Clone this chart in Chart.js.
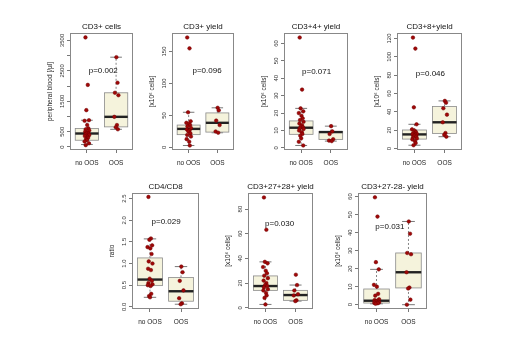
<!DOCTYPE html>
<html lang="en">
<head>
    <meta charset="UTF-8">
    <script src="https://cdn.jsdelivr.net/npm/chart.js"></script>
    <title>OOS vs no OOS</title>
    <style>
        body {
            margin: 0;
            background: #fff;
            width: 520px;
            height: 360px;
            position: relative;
            overflow: hidden;
        }
        canvas {
            position: absolute;
        }
    </style>
</head>
<body>
    <canvas id="c0"></canvas>
    <canvas id="c1"></canvas>
    <canvas id="c2"></canvas>
    <canvas id="c3"></canvas>
    <canvas id="c4"></canvas>
    <canvas id="c5"></canvas>
    <canvas id="c6"></canvas>
    <script>
        // --- data ---
        const groups = ['no OOS', 'OOS'];
        const titles = ['CD3+ cells', 'CD3+ yield', 'CD3+4+ yield', 'CD3+8+yield', 'CD4/CD8', 'CD3+27+28+ yield', 'CD3+27-28- yield'];
        const yTitles = ['peripheral blood [/µl]', '[x10⁶ cells]', '[x10⁶ cells]', '[x10⁶ cells]', 'ratio', '[x10⁶ cells]', '[x10⁶ cells]'];
        const pValues = ['p=0.002', 'p=0.096', 'p=0.071', 'p=0.046', 'p=0.029', 'p=0.030', 'p=0.031'];

        // points per group
        const cellsNo = [3600, 2040, 1210, 880, 860, 720, 610, 580, 540, 500, 470, 450, 430, 410, 390, 360, 330, 300, 260, 220, 180, 120, 60];
        const cellsOos = [2950, 2110, 1780, 1700, 990, 720, 650, 580];
        const yieldNo = [172, 155, 55, 41, 38.5, 37, 35, 33, 30.5, 28, 26.5, 25, 22, 19.5, 17, 13, 9, 3];
        const yieldOos = [62, 58, 42, 35, 25, 23];
        const cd4No = [63.4, 33.5, 22.7, 21, 20, 18.5, 17, 16, 15, 14, 13, 12.2, 11.8, 11.2, 10.8, 10, 9, 8, 7, 5.5, 3.5, 1.4];
        const cd4Oos = [12.5, 9.5, 8, 5, 4.2, 3.9];
        const cd8No = [121, 109, 45, 26.5, 21, 19.5, 18, 17, 16, 15.5, 15, 14, 13, 12, 11, 10, 8, 6, 3.7];
        const cd8Oos = [52, 50, 44, 37, 28.7, 17, 15, 13];
        const ratioNo = [2.54, 1.58, 1.55, 1.42, 1.38, 1.35, 1.22, 1.05, 1.0, 0.88, 0.85, 0.65, 0.6, 0.55, 0.52, 0.5, 0.48, 0.3, 0.25, 0.22];
        const ratioOos = [0.93, 0.8, 0.6, 0.38, 0.2, 0.08, 0.06];
        const cd2728No = [89.4, 63.2, 37.2, 36, 33, 30, 28, 26, 24, 22, 20, 18.5, 17.6, 16.5, 15, 14, 12, 10, 8, 2.7];
        const cd2728Oos = [26.8, 18.4, 14, 11, 10, 6, 5.4];
        const neg2728No = [59.6, 48.9, 23.6, 19.6, 11, 10, 6, 5, 3, 2.5, 2.2, 2, 1.5, 1.5, 1.2, 1, 1, 0.8, 0.5];
        const neg2728Oos = [46.2, 39.4, 28.7, 28, 18, 9.5, 9, 2.8, 0];

        // box stats per group: [lower whisker, q1, median, q3, upper whisker]
        const cellsBox = [[80, 221, 442, 607, 878], [580, 660, 990, 1780, 2950]];
        const yieldBox = [[3, 20, 29, 35, 55], [23, 24, 38.5, 54, 62]];
        const cd4Box = [[1.4, 7.8, 11.6, 15.5, 22.7], [3.9, 4.9, 9.1, 9.4, 12.5]];
        const cd8Box = [[3.7, 10.4, 15.5, 20.3, 26.5], [13, 16.6, 28.7, 46, 52]];
        const ratioBox = [[0.22, 0.49, 0.63, 1.13, 1.57], [0.06, 0.13, 0.36, 0.68, 0.93]];
        const cd2728Box = [[2.7, 14.1, 17.6, 25.8, 37.2], [5.4, 6, 10.3, 14.1, 18.4]];
        const neg2728Box = [[0.5, 0.9, 2.2, 8.7, 19.6], [0, 9.3, 18, 28.7, 46.2]];

        // y ticks and the labels that R kept
        const cellsTicks = [0, 500, 1000, 1500, 2000, 2500, 3000, 3500];
        const cellsLabels = ['0', '500', '', '1500', '', '2500', '', '3500'];
        const yieldTicks = [0, 50, 100, 150];
        const cd4Ticks = [0, 10, 20, 30, 40, 50, 60];
        const cd8Ticks = [0, 20, 40, 60, 80, 100, 120];
        const ratioTicks = [0, 0.5, 1, 1.5, 2, 2.5];
        const ratioLabels = ['0.0', '0.5', '1.0', '1.5', '2.0', '2.5'];
        const cd2728Ticks = [0, 20, 40, 60, 80];
        const neg2728Ticks = [0, 10, 20, 30, 40, 50, 60];

        // --- layout (page pixels) ---
        // frame: [left, top, right, bottom], yRange: axis limits, pAt: [x, y] of p text in data units
        const panels = [
            { no: cellsNo, oos: cellsOos, box: cellsBox, ticks: cellsTicks, labels: cellsLabels, frame: [70, 33, 133, 150], yRange: [-100, 3745], pAt: [1.56, 2509] },
            { no: yieldNo, oos: yieldOos, box: yieldBox, ticks: yieldTicks, labels: yieldTicks.map(String), frame: [172, 33, 234, 150], yRange: [-4, 179], pAt: [1.64, 119.6] },
            { no: cd4No, oos: cd4Oos, box: cd4Box, ticks: cd4Ticks, labels: cd4Ticks.map(String), frame: [284, 33, 348, 150], yRange: [-1.2, 66], pAt: [1.52, 44] },
            { no: cd8No, oos: cd8Oos, box: cd8Box, ticks: cd8Ticks, labels: cd8Ticks.map(String), frame: [397, 33, 462, 150], yRange: [-1.5, 126], pAt: [1.53, 81.7] },
            { no: ratioNo, oos: ratioOos, box: ratioBox, ticks: ratioTicks, labels: ratioLabels, frame: [132, 193, 199, 309], yRange: [-0.05, 2.63], pAt: [1.52, 1.96] },
            { no: cd2728No, oos: cd2728Oos, box: cd2728Box, ticks: cd2728Ticks, labels: cd2728Ticks.map(String), frame: [248, 193, 313, 309], yRange: [-1, 93], pAt: [1.47, 68.3] },
            { no: neg2728No, oos: neg2728Oos, box: neg2728Box, ticks: neg2728Ticks, labels: neg2728Ticks.map(String), frame: [358, 193, 427, 309], yRange: [-2.4, 62], pAt: [1.42, 43.2] }
        ];

        // fixed horizontal spread of the dots (stripchart style)
        const jitter = [-0.05, 0.03, -0.02, 0.07, -0.08, 0.01, 0.05, -0.04, 0.08, -0.06, 0.03, -0.01, 0.06, -0.05, 0.08, -0.07, 0.02, 0.04, -0.03, 0.0, -0.08, 0.07, -0.04];

        const FONT = "'Liberation Sans', Arial, sans-serif";
        // same margin on both sides (empty right axis) so the title centres on the frame
        const SIDE = 40, TOP = 25, BOTTOM = 25;

        function makeChart(i) {
            const p = panels[i];
            const [L, T, R, B] = p.frame;
            const canvas = document.getElementById('c' + i);
            canvas.width = R - L + 2 * SIDE;
            canvas.height = B - T + TOP + BOTTOM;
            canvas.style.left = (L - SIDE) + 'px';
            canvas.style.top = (T - TOP) + 'px';

            const boxPlugin = {
                id: 'boxes' + i,
                beforeDatasetsDraw(chart) {
                    const { ctx, scales: { x, y } } = chart;
                    ctx.save();
                    p.box.forEach((b, g) => {
                        const [lo, q1, med, q3, hi] = b;
                        const c = g + 1;
                        const cx = x.getPixelForValue(c);
                        const xl = x.getPixelForValue(c - 0.4);
                        const xr = x.getPixelForValue(c + 0.4);
                        const sl = x.getPixelForValue(c - 0.2);
                        const sr = x.getPixelForValue(c + 0.2);
                        // whiskers
                        ctx.strokeStyle = '#666';
                        ctx.lineWidth = 0.8;
                        ctx.setLineDash([2, 2]);
                        ctx.beginPath();
                        ctx.moveTo(cx, y.getPixelForValue(q3));
                        ctx.lineTo(cx, y.getPixelForValue(hi));
                        ctx.moveTo(cx, y.getPixelForValue(q1));
                        ctx.lineTo(cx, y.getPixelForValue(lo));
                        ctx.stroke();
                        ctx.setLineDash([]);
                        ctx.strokeStyle = '#555';
                        ctx.beginPath();
                        ctx.moveTo(sl, y.getPixelForValue(hi));
                        ctx.lineTo(sr, y.getPixelForValue(hi));
                        ctx.moveTo(sl, y.getPixelForValue(lo));
                        ctx.lineTo(sr, y.getPixelForValue(lo));
                        ctx.stroke();
                        // box
                        const yt = y.getPixelForValue(q3), yb = y.getPixelForValue(q1);
                        ctx.fillStyle = '#f5f3dc';
                        ctx.fillRect(xl, yt, xr - xl, yb - yt);
                        ctx.strokeStyle = '#8a8a8a';
                        ctx.lineWidth = 0.8;
                        ctx.strokeRect(xl, yt, xr - xl, yb - yt);
                        // median
                        ctx.strokeStyle = '#222';
                        ctx.lineWidth = 2.4;
                        ctx.beginPath();
                        ctx.moveTo(xl, y.getPixelForValue(med));
                        ctx.lineTo(xr, y.getPixelForValue(med));
                        ctx.stroke();
                    });
                    ctx.restore();
                },
                afterDraw(chart) {
                    const { ctx, chartArea: a, scales: { x, y } } = chart;
                    ctx.save();
                    // frame
                    ctx.strokeStyle = '#888';
                    ctx.lineWidth = 1;
                    ctx.strokeRect(a.left + 0.5, a.top + 0.5, a.right - a.left - 1, a.bottom - a.top - 1);
                    // y tick labels, parallel to the axis like R
                    ctx.fillStyle = '#333';
                    ctx.font = '6px ' + FONT;
                    ctx.textAlign = 'center';
                    ctx.textBaseline = 'middle';
                    y.ticks.forEach((t, k) => {
                        const lab = p.labels[k];
                        if (!lab) return;
                        ctx.save();
                        ctx.translate(a.left - 8, y.getPixelForValue(t.value));
                        ctx.rotate(-Math.PI / 2);
                        ctx.fillText(lab, 0, 0);
                        ctx.restore();
                    });
                    // p value
                    ctx.fillStyle = '#111';
                    ctx.font = '8px ' + FONT;
                    ctx.fillText(pValues[i], x.getPixelForValue(p.pAt[0]), y.getPixelForValue(p.pAt[1]));
                    ctx.restore();
                }
            };

            const dotStyle = {
                pointRadius: 1.8,
                pointBackgroundColor: '#a00808',
                pointBorderColor: '#700000',
                pointBorderWidth: 0.5,
                showLine: false
            };

            return new Chart(canvas, {
                type: 'scatter',
                data: {
                    datasets: [
                        Object.assign({ label: groups[0], data: p.no.map((v, k) => ({ x: 1 + jitter[k % jitter.length], y: v })) }, dotStyle),
                        Object.assign({ label: groups[1], data: p.oos.map((v, k) => ({ x: 2 + jitter[(k + 5) % jitter.length], y: v })) }, dotStyle)
                    ]
                },
                options: {
                    responsive: false,
                    animation: false,
                    devicePixelRatio: 1,
                    layout: { padding: 0 },
                    plugins: {
                        legend: { display: false },
                        tooltip: { enabled: false },
                        title: {
                            display: true,
                            text: titles[i],
                            color: '#111',
                            font: { size: 8, family: FONT, weight: 'normal', lineHeight: 1.25 },
                            padding: { top: 14, bottom: 1 }
                        }
                    },
                    scales: {
                        x: {
                            type: 'linear',
                            min: 0.42,
                            max: 2.58,
                            bounds: 'data',
                            afterBuildTicks: s => { s.ticks = [{ value: 1 }, { value: 2 }]; },
                            afterFit: s => { s.height = BOTTOM; },
                            ticks: {
                                callback: (v, k) => groups[k],
                                font: { size: 6.5, family: FONT },
                                color: '#222',
                                padding: 6,
                                maxRotation: 0,
                                autoSkip: false
                            },
                            grid: { drawOnChartArea: false, tickLength: 3, color: '#777' },
                            border: { display: false }
                        },
                        y: {
                            min: p.yRange[0],
                            max: p.yRange[1],
                            bounds: 'data',
                            afterBuildTicks: s => { s.ticks = p.ticks.map(v => ({ value: v })); },
                            afterFit: s => { s.width = SIDE; },
                            ticks: { display: false },
                            grid: { drawOnChartArea: false, tickLength: 3, color: '#777' },
                            border: { display: false },
                            title: {
                                display: true,
                                text: yTitles[i],
                                color: '#222',
                                font: { size: 6.5, family: FONT },
                                padding: { top: 16, bottom: 0 }
                            }
                        },
                        yRight: {
                            position: 'right',
                            afterFit: s => { s.width = SIDE; },
                            ticks: { display: false },
                            grid: { display: false },
                            border: { display: false }
                        }
                    }
                },
                plugins: [boxPlugin]
            });
        }

        panels.forEach((p, i) => makeChart(i));
    </script>
</body>
</html>
